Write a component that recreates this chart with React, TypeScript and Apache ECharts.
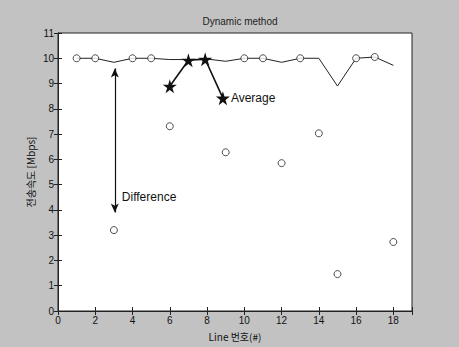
import React, { useEffect, useRef } from "react";
import * as echarts from "echarts";

const xLine = [1, 2, 3, 4, 5, 6, 7, 8, 9, 10, 11, 12, 13, 14, 15, 16, 17, 18];
const yLine = [10, 10, 9.84, 10, 10, 9.95, 9.95, 9.97, 9.88, 10, 10, 9.84, 10, 10, 8.9, 10, 10.05, 9.72];
const xOnLine = [1, 2, 4, 5, 10, 11, 13, 16, 17];
const yOnLine = [10, 10, 10, 10, 10, 10, 10, 10, 10.05];
const xLow = [3, 6, 9, 12, 14, 15, 18];
const yLow = [3.2, 7.31, 6.28, 5.85, 7.03, 1.46, 2.73];
const xStar = [6, 7, 7.9, 8.85];
const yStar = [8.89, 9.92, 9.96, 8.42];
const xTicks = [0, 2, 4, 6, 8, 10, 12, 14, 16, 18];
const arrowX = 3.05;
const arrowY = [9.6, 3.9];

const STAR =
  "path://M50,0 L61,35 L98,35 L68,57 L79,91 L50,70 L21,91 L32,57 L2,35 L39,35 Z";

export default function App() {
  const ref = useRef<HTMLDivElement>(null);
  useEffect(() => {
    document.body.style.margin = "0";
    const chart = echarts.init(ref.current!, null, { renderer: "svg" });
    const axisFont = { fontFamily: "Liberation Sans, Arial, sans-serif", fontSize: 10, color: "#111" };
    const zip = (xs: number[], ys: number[]) => xs.map((x, i) => [x, ys[i]]);
    const circleStyle = { color: "#ffffff", borderColor: "#222", borderWidth: 1 };
    chart.setOption({
      animation: false,
      backgroundColor: "#c2c2c2",
      title: {
        text: "Dynamic method",
        left: 235,
        textAlign: "center",
        top: 11,
        textStyle: { fontSize: 10, fontWeight: "normal", color: "#222", fontFamily: "Liberation Sans, Arial, sans-serif" },
      },
      grid: { left: 58, right: 47, top: 33, bottom: 36, show: true, backgroundColor: "#ffffff", borderColor: "#222", borderWidth: 1 },
      xAxis: [
        {
          type: "value",
          min: 0,
          max: 19,
          interval: 2,
          name: "Line 번호(#)",
          nameLocation: "middle",
          nameGap: 20,
          nameTextStyle: { ...axisFont, fontFamily: "Noto Sans CJK KR, sans-serif", fontSize: 10 },
          axisLine: { lineStyle: { color: "#222" } },
          axisTick: { inside: true, length: 4, lineStyle: { color: "#222" } },
          axisLabel: { ...axisFont, margin: 4, formatter: (v: number) => (xTicks.includes(v) ? String(v) : "") },
          splitLine: { show: false },
        },
        {
          type: "value",
          position: "top",
          min: 0,
          max: 19,
          interval: 2,
          axisLine: { lineStyle: { color: "#222" } },
          axisTick: { inside: true, length: 4, lineStyle: { color: "#222" } },
          axisLabel: { show: false },
          splitLine: { show: false },
        },
      ],
      yAxis: [
        {
          type: "value",
          min: 0,
          max: 11,
          interval: 1,
          name: "전송속도 [Mbps]",
          nameLocation: "middle",
          nameGap: 23,
          nameMoveOverlap: false,
          nameTextStyle: { ...axisFont, fontFamily: "Noto Sans CJK KR, sans-serif", fontSize: 10 },
          axisLine: { lineStyle: { color: "#222" } },
          axisTick: { inside: true, length: 4, lineStyle: { color: "#222" } },
          axisLabel: { ...axisFont, margin: 4 },
          splitLine: { show: false },
        },
        {
          type: "value",
          position: "right",
          min: 0,
          max: 11,
          interval: 1,
          axisLine: { lineStyle: { color: "#222" } },
          axisTick: { inside: true, length: 4, lineStyle: { color: "#222" } },
          axisLabel: { show: false },
          splitLine: { show: false },
        },
      ],
      series: [
        {
          type: "line",
          data: zip(xLine, yLine),
          showSymbol: false,
          lineStyle: { color: "#222", width: 1 },
          markLine: {
            silent: true,
            symbol: ["arrow", "arrow"],
            symbolSize: [6, 9],
            label: { show: false },
            lineStyle: { color: "#111", width: 1.2, type: "solid" },
            data: [[{ coord: [arrowX, arrowY[0]] }, { coord: [arrowX, arrowY[1]] }]],
          },
        },
        {
          type: "scatter",
          data: zip(xOnLine, yOnLine),
          symbol: "circle",
          symbolSize: 7,
          itemStyle: circleStyle,
          z: 3,
        },
        {
          type: "scatter",
          data: zip(xLow, yLow),
          symbol: "circle",
          symbolSize: 7,
          itemStyle: circleStyle,
          z: 3,
        },
        {
          type: "line",
          data: zip(xStar, yStar),
          symbol: STAR,
          symbolSize: 14,
          showAllSymbol: true,
          lineStyle: { color: "#111", width: 1.6 },
          itemStyle: { color: "#111" },
          z: 4,
          markPoint: {
            symbol: "circle",
            symbolSize: 0,
            silent: true,
            data: [
              {
                coord: [xStar[3], yStar[3]],
                label: { show: true, formatter: "Average", position: "right", distance: 8, fontSize: 12, color: "#111", fontFamily: "Liberation Sans, Arial, sans-serif" },
              },
              {
                coord: [arrowX, 4.5],
                label: { show: true, formatter: "Difference", position: "right", distance: 7, fontSize: 12, color: "#111", fontFamily: "Liberation Sans, Arial, sans-serif" },
              },
            ],
          },
        },
      ],
    });
    return () => chart.dispose();
  }, []);
  return <div ref={ref} style={{ width: 459, height: 347 }} />;
}
